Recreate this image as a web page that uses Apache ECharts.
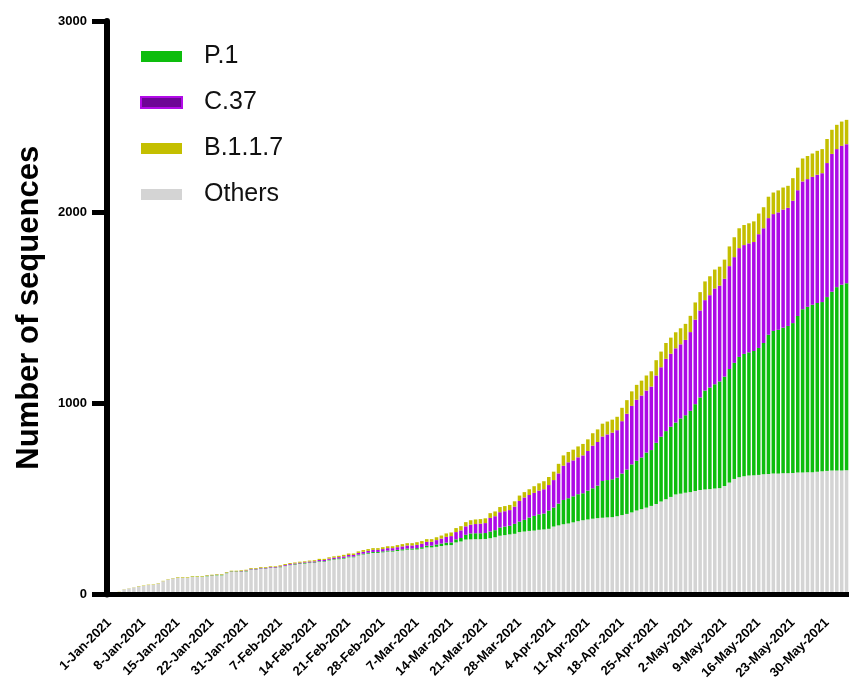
<!DOCTYPE html>
<html>
<head>
<meta charset="utf-8">
<script src="https://cdn.jsdelivr.net/npm/echarts@6/dist/echarts.min.js"></script>
<style>
  html, body { margin: 0; padding: 0; background: #fff; }
  #chart { width: 849px; height: 682px; }
</style>
</head>
<body>
<div id="chart"></div>
<script>
// x categories: one bar per day, two January days have no bar
const months = [['Jan', 31], ['Feb', 28], ['Mar', 31], ['Apr', 30], ['May', 31], ['Jun', 3]];
const missingDays = ['23-Jan-2021', '24-Jan-2021'];
const categories = [];
months.forEach(([m, n]) => {
  for (let d = 1; d <= n; d++) {
    const label = d + '-' + m + '-2021';
    if (missingDays.indexOf(label) < 0) categories.push(label);
  }
});

const yTicks = [0, 1000, 2000, 3000];

// cumulative sequences per lineage
const others = [
  2, 8, 14, 27, 32, 37, 43, 46, 50, 52, 58, 70, 79, 85, 89, 89, 89, 93, 93, 93,
  96, 98, 101, 101, 112, 119, 119, 119, 121, 130, 130, 135, 135, 139, 139, 143, 149, 154, 156, 160,
  162, 165, 166, 172, 172, 179, 183, 185, 188, 195, 195, 205, 210, 214, 218, 218, 221, 225, 225, 228,
  231, 235, 235, 236, 240, 247, 247, 250, 254, 258, 259, 273, 278, 288, 289, 290,
  290, 291, 295, 300, 308, 311, 315, 318, 327, 330, 333, 335, 339, 341, 344, 356, 362, 368, 372, 378,
  384, 389, 393, 397, 400, 402, 404, 405, 410, 416, 422, 430, 440, 447, 455, 464, 474, 487, 499, 511,
  524, 528, 533, 536, 542, 547, 550, 552, 555, 557, 568, 586, 605, 614, 619, 623, 624, 626, 629, 631,
  633, 633, 635, 635, 636, 638, 638, 640, 640, 642, 645, 647, 649, 649, 649, 650
];
const p1 = [
  0, 0, 0, 0, 0, 0, 0, 0, 0, 0, 0, 0, 0, 0, 0, 0, 0, 1, 1, 1,
  2, 2, 2, 2, 2, 2, 2, 2, 2, 2, 2, 2, 2, 2, 2, 2, 2, 2, 3, 3,
  3, 3, 3, 3, 3, 3, 3, 4, 4, 4, 4, 4, 4, 5, 5, 5, 5, 5, 5, 6,
  6, 6, 6, 7, 8, 9, 9, 12, 13, 14, 14, 16, 18, 25, 31, 31,
  31, 31, 35, 37, 43, 45, 45, 52, 55, 61, 70, 77, 81, 83, 96, 99, 114, 127, 132, 136,
  141, 141, 151, 159, 170, 192, 195, 198, 202, 217, 232, 251, 260, 270, 288, 292, 320, 339, 356, 367,
  376, 393, 405, 425, 454, 484, 517, 531, 545, 558, 572, 594, 607, 629, 640, 644, 650, 664, 687, 728,
  746, 752, 761, 770, 784, 819, 855, 865, 876, 883, 885, 909, 935, 959, 971, 979
];
const c37 = [
  0, 0, 0, 0, 0, 0, 0, 0, 0, 0, 0, 0, 0, 0, 0, 0, 0, 0, 0, 0,
  1, 1, 1, 1, 1, 1, 1, 2, 3, 3, 3, 3, 3, 3, 3, 3, 4, 4, 4, 4,
  4, 5, 5, 6, 6, 6, 7, 7, 8, 8, 8, 9, 10, 10, 11, 11, 12, 13, 13, 14,
  15, 16, 16, 17, 18, 20, 20, 23, 26, 30, 33, 38, 40, 44, 46, 48,
  50, 52, 71, 73, 80, 80, 82, 90, 108, 117, 118, 120, 124, 127, 133, 144, 158, 179, 188, 188,
  193, 198, 207, 223, 228, 233, 239, 244, 248, 274, 292, 306, 319, 324, 324, 332, 352, 363, 378, 382,
  388, 388, 394, 412, 442, 455, 473, 483, 501, 501, 512, 538, 553, 569, 569, 570, 570, 595, 600, 610,
  611, 614, 618, 618, 640, 658, 668, 668, 669, 671, 674, 701, 721, 722, 727, 727
];
const b117 = [
  0, 0, 1, 1, 1, 1, 2, 2, 2, 2, 2, 2, 2, 2, 3, 3, 3, 3, 3, 3,
  3, 3, 3, 3, 3, 3, 3, 4, 4, 4, 4, 4, 4, 4, 4, 5, 5, 5, 5, 5,
  5, 5, 6, 6, 6, 7, 7, 7, 8, 8, 8, 8, 9, 9, 9, 9, 10, 10, 10, 11,
  12, 12, 12, 14, 14, 14, 14, 15, 16, 18, 19, 21, 22, 22, 23, 24,
  24, 25, 25, 25, 27, 27, 27, 28, 28, 28, 30, 35, 38, 42, 42, 44, 50, 54, 54, 56,
  57, 60, 61, 65, 66, 67, 67, 68, 70, 70, 71, 76, 78, 78, 79, 80, 80, 82, 83, 84,
  84, 84, 84, 85, 90, 96, 98, 99, 99, 99, 100, 103, 104, 104, 105, 105, 108, 108, 110, 112,
  113, 115, 115, 115, 118, 118, 120, 121, 122, 125, 126, 126, 126, 127, 127, 127
];

const font = 'Arial, "Liberation Sans", Helvetica, sans-serif';

const chart = echarts.init(document.getElementById('chart'));

function barSeries(name, data, color) {
  return {
    name: name,
    type: 'bar',
    stack: 'seq',
    data: data,
    barCategoryGap: '28%',
    itemStyle: { color: color },
    emphasis: { disabled: true }
  };
}

chart.setOption({
  animation: false,
  backgroundColor: '#fff',
  grid: { left: 107, right: 0, top: 21, bottom: 85 },
  legend: {
    orient: 'vertical',
    left: 140,
    top: 44,
    padding: 0,
    icon: 'rect',
    itemWidth: 41,
    itemHeight: 11,
    itemGap: 21,
    textStyle: { fontFamily: font, fontSize: 25, color: '#111', padding: [0, 0, 0, 17], lineHeight: 25 },
    data: [
      { name: 'P.1' },
      { name: 'C.37', itemStyle: { color: '#6e0496', borderColor: '#b20ae8', borderWidth: 2 } },
      { name: 'B.1.1.7' },
      { name: 'Others' }
    ]
  },
  xAxis: {
    type: 'category',
    data: categories,
    z: 10,
    axisLine: { lineStyle: { color: '#000', width: 5 } },
    axisTick: { alignWithLabel: true, interval: 6, length: 15, lineStyle: { color: '#000', width: 5 } },
    axisLabel: {
      interval: 6,
      rotate: 45,
      margin: 26,
      fontFamily: font,
      fontWeight: 'bold',
      fontSize: 13,
      color: '#000'
    }
  },
  yAxis: {
    type: 'value',
    min: yTicks[0],
    max: yTicks[yTicks.length - 1],
    interval: 1000,
    name: 'Number of sequences',
    nameLocation: 'middle',
    nameGap: 62,
    nameTextStyle: { fontFamily: font, fontWeight: 'bold', fontSize: 31, color: '#000' },
    z: 10,
    axisLine: { show: true, lineStyle: { color: '#000', width: 6 } },
    axisTick: { show: true, length: 15, lineStyle: { color: '#000', width: 5 } },
    axisLabel: {
      margin: 20,
      fontFamily: font,
      fontWeight: 'bold',
      fontSize: 13,
      color: '#000',
      formatter: v => String(v)
    },
    splitLine: { show: false }
  },
  series: [
    barSeries('Others', others, '#d4d4d4'),
    barSeries('P.1', p1, '#0dbd0d'),
    barSeries('C.37', c37, '#ad0ae6'),
    barSeries('B.1.1.7', b117, '#c4bf00')
  ]
});
</script>
</body>
</html>
